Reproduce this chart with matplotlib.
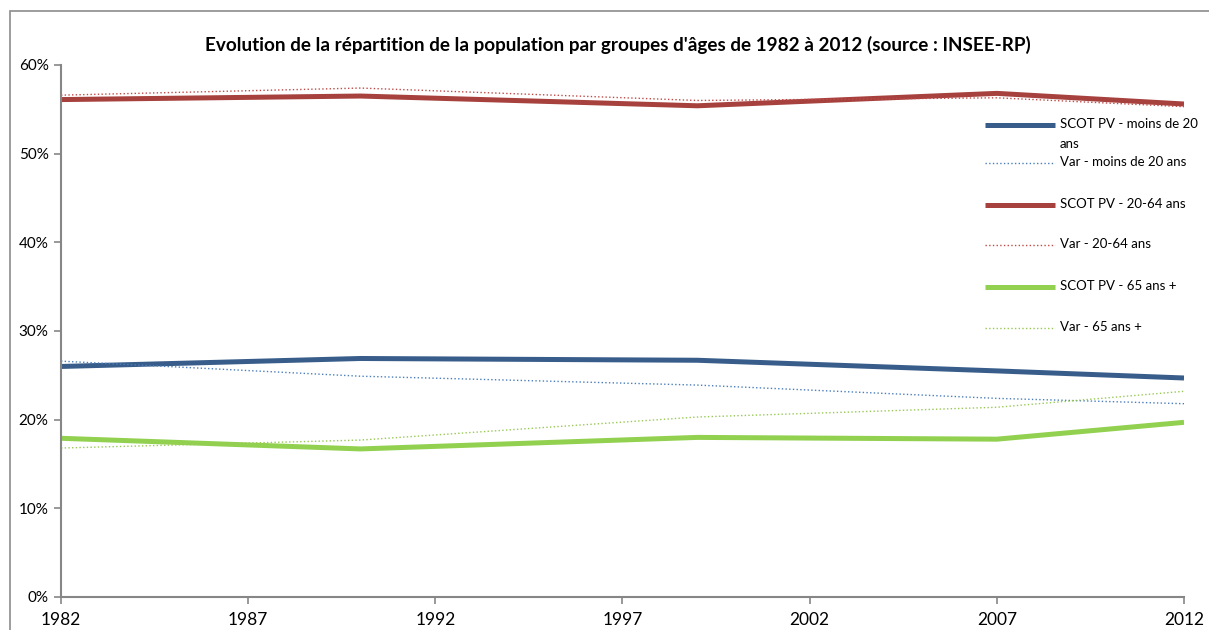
import matplotlib
matplotlib.use("Agg")
import matplotlib.pyplot as plt
from matplotlib.patches import Rectangle
from matplotlib.lines import Line2D
from matplotlib.ticker import FuncFormatter, MultipleLocator

plt.rcParams['font.family'] = ['Lato', 'DejaVu Sans']

years = [1982, 1990, 1999, 2007, 2012]
scot_moins20 = [26.0, 26.9, 26.7, 25.5, 24.7]
var_moins20 = [26.6, 24.9, 23.9, 22.4, 21.8]
scot_20_64 = [56.1, 56.5, 55.4, 56.8, 55.6]
var_20_64 = [56.6, 57.4, 56.0, 56.3, 55.3]
scot_65 = [17.9, 16.7, 18.0, 17.8, 19.7]
var_65 = [16.8, 17.7, 20.3, 21.4, 23.2]
xticks = [1982, 1987, 1992, 1997, 2002, 2007, 2012]
labels = ['SCOT PV - moins de 20\nans', 'Var - moins de 20 ans', 'SCOT PV - 20-64 ans',
          'Var - 20-64 ans', 'SCOT PV - 65 ans +', 'Var - 65 ans +']

W, H = 1209, 630
fig = plt.figure(figsize=(W/100, H/100), dpi=100)
fig.patches.append(Rectangle((10/W, -0.1), 1.2, 1 - 11/H + 0.1, transform=fig.transFigure,
                             fill=False, edgecolor='#8c8c8c', lw=1.2))
ax = fig.add_axes([61/W, 1-597/H, (1184-61)/W, (597-65)/H])

styles = [('#385D8A', '-', 3.6), ('#4A7EBB', ':', 1.0), ('#A6413D', '-', 3.6),
          ('#BE4B48', ':', 1.0), ('#92D050', '-', 3.6), ('#98C954', ':', 1.0)]
data = [scot_moins20, var_moins20, scot_20_64, var_20_64, scot_65, var_65]
for vals, lab, (col, ls, lw) in zip(data, labels, styles):
    ax.plot(years, [v/100 for v in vals], color=col, ls=ls, lw=lw, label=lab,
            solid_capstyle='butt')

ax.set_xlim(1982, 2012)
ax.set_ylim(0, 0.6)
ax.set_xticks(xticks)
ax.yaxis.set_major_locator(MultipleLocator(0.1))
ax.yaxis.set_major_formatter(FuncFormatter(lambda v, p: f"{v*100:.0f}%"))
for s in ['top', 'right']:
    ax.spines[s].set_visible(False)
for s in ['left', 'bottom']:
    ax.spines[s].set_color('#868686')
    ax.spines[s].set_linewidth(1.5)
ax.tick_params(axis='both', direction='out', color='#868686', length=5, width=1.2)
ax.tick_params(axis='x', labelsize=12.5, pad=6)
ax.tick_params(axis='y', labelsize=11, pad=4)

fig.text(618/W, 1-45/H, "Evolution de la répartition de la population par groupes d'âges de 1982 à 2012 (source : INSEE-RP)",
         ha='center', va='center', fontsize=13.6, fontweight='bold')

# legend (manual layout to mimic the spreadsheet legend)
leg_y = [125, 163, 205, 245, 287, 328]
for ypix, lab, (col, ls, lw) in zip(leg_y, labels, styles):
    yf = 1 - ypix/H
    fig.add_artist(Line2D([985/W, 1055/W], [yf, yf], transform=fig.transFigure,
                          color=col, ls=ls, lw=lw, solid_capstyle='butt'))
    fig.text(1060/W, yf + 7/H, lab, ha='left', va='top', fontsize=9.5,
             linespacing=1.75)

fig.savefig('out.png', dpi=100)
